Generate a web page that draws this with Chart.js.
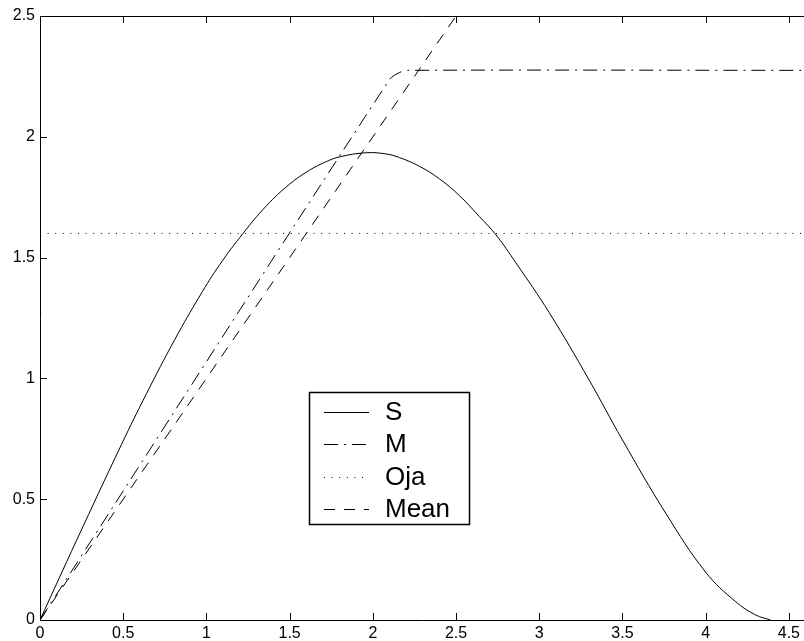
<!DOCTYPE html>
<html>
<head>
<meta charset="utf-8">
<script src="https://cdn.jsdelivr.net/npm/chart.js@4/dist/chart.umd.min.js"></script>
<style>
  html, body { margin: 0; padding: 0; background: #fff; }
  #wrap { width: 804px; height: 641px; }
</style>
</head>
<body>
<div id="wrap"><canvas id="myChart"></canvas></div>
<script>
// values
var sX = [0, 0.22, 0.49, 0.64, 0.81, 0.96, 1.08, 1.22, 1.36, 1.50, 1.62, 1.72, 1.80, 1.96, 2.08, 2.16, 2.28, 2.40, 2.52, 2.64, 2.74, 2.86, 3.06, 3.30, 3.50, 3.76, 4.00, 4.18, 4.30, 4.39];
var sY = [0, 0.330, 0.727, 0.937, 1.161, 1.341, 1.471, 1.600, 1.714, 1.804, 1.862, 1.897, 1.917, 1.934, 1.929, 1.914, 1.878, 1.826, 1.757, 1.670, 1.594, 1.478, 1.272, 0.993, 0.745, 0.442, 0.198, 0.076, 0.021, 0];
var mX = [0, 2.10, 2.16, 2.21, 4.6];
var mY = [0, 2.237, 2.266, 2.275, 2.275];
var ojaX = [0, 4.6];
var ojaY = [1.6, 1.6];
var meanX = [0, 2.6];
var meanY = [0, 2.6];
var xTicks = [0, 0.5, 1, 1.5, 2, 2.5, 3, 3.5, 4, 4.5];
var yTicks = [0, 0.5, 1, 1.5, 2, 2.5];
var seriesNames = ['S', 'M', 'Oja', 'Mean'];

function pts(xs, ys) {
    var out = [];
    for (var i = 0; i < xs.length; i++) {
        out.push({ x: xs[i], y: ys[i] });
    }
    return out;
}

var FONT = '"Liberation Sans", Arial, Helvetica, sans-serif';

function line(label, data, dash, tension) {
    return {
        label: label,
        data: data,
        showLine: true,
        borderColor: '#000',
        borderWidth: 1,
        borderDash: dash,
        pointRadius: 0,
        fill: false,
        tension: tension
    };
}

var dataSource = {
    datasets: [
        line(seriesNames[0], pts(sX, sY), [], 0.4),
        line(seriesNames[1], pts(mX, mY), [14, 6, 2, 6], 0.3),
        line(seriesNames[2], pts(ojaX, ojaY), [1, 6.6], 0),
        line(seriesNames[3], pts(meanX, meanY), [11, 9], 0)
    ]
};

// box round the axes with ticks pointing inward, like the original
var frame = {
    id: 'frame',
    afterDraw: function (chart) {
        var ctx = chart.ctx;
        var a = chart.chartArea;
        var x = chart.scales.x, y = chart.scales.y;
        ctx.save();
        ctx.strokeStyle = '#000';
        ctx.lineWidth = 1;
        ctx.setLineDash([]);
        ctx.beginPath();
        ctx.moveTo(a.right + 1, a.top + 0.5);
        ctx.lineTo(a.left + 0.5, a.top + 0.5);
        ctx.lineTo(a.left + 0.5, a.bottom + 0.5);
        ctx.lineTo(a.right + 1, a.bottom + 0.5);
        xTicks.forEach(function (v) {
            var px = Math.round(x.getPixelForValue(v)) + 0.5;
            ctx.moveTo(px, a.bottom);
            ctx.lineTo(px, a.bottom - 7);
            ctx.moveTo(px, a.top);
            ctx.lineTo(px, a.top + 7);
        });
        yTicks.forEach(function (v) {
            var py = Math.round(y.getPixelForValue(v)) + 0.5;
            ctx.moveTo(a.left, py);
            ctx.lineTo(a.left + 7, py);
        });
        ctx.stroke();
        ctx.restore();
    }
};

// boxed legend inside the plot
var boxLegend = {
    id: 'boxLegend',
    afterDraw: function (chart) {
        var ctx = chart.ctx;
        var bx = 309, by = 392, bw = 160, bh = 132;
        ctx.save();
        ctx.fillStyle = '#fff';
        ctx.fillRect(bx, by, bw, bh);
        ctx.strokeStyle = '#000';
        ctx.lineWidth = 1.5;
        ctx.setLineDash([]);
        ctx.strokeRect(bx + 0.5, by + 0.5, bw, bh);
        ctx.font = '26px ' + FONT;
        ctx.textBaseline = 'middle';
        ctx.fillStyle = '#000';
        chart.data.datasets.forEach(function (ds, i) {
            var cy = by + 20 + i * 32.3;
            ctx.lineWidth = 1;
            ctx.setLineDash(ds.borderDash);
            ctx.beginPath();
            ctx.moveTo(324, Math.round(cy) + 0.5);
            ctx.lineTo(369, Math.round(cy) + 0.5);
            ctx.stroke();
            ctx.fillText(ds.label, 385, cy + 1);
        });
        ctx.restore();
    }
};

var ctx = document.getElementById('myChart').getContext('2d');
new Chart(ctx, {
    type: 'scatter',
    data: dataSource,
    plugins: [frame, boxLegend],
    options: {
        responsive: true,
        maintainAspectRatio: false,
        animation: false,
        layout: { padding: { top: 16, right: 0, bottom: 0, left: 0 } },
        plugins: {
            legend: { display: false },
            tooltip: { enabled: false }
        },
        scales: {
            x: {
                type: 'linear',
                min: 0,
                max: 4.59,
                afterBuildTicks: function (scale) {
                    scale.ticks = xTicks.map(function (v) { return { value: v }; });
                },
                afterFit: function (scale) { scale.height = 21; },
                grid: { display: false, drawTicks: false },
                border: { display: false },
                ticks: {
                    padding: 4,
                    maxRotation: 0,
                    autoSkip: false,
                    color: '#000',
                    font: { family: FONT, size: 16 },
                    callback: function (v) { return String(v); }
                }
            },
            y: {
                type: 'linear',
                min: 0,
                max: 2.5,
                afterBuildTicks: function (scale) {
                    scale.ticks = yTicks.map(function (v) { return { value: v }; });
                },
                afterFit: function (scale) { scale.width = 40; },
                grid: { display: false, drawTicks: false },
                border: { display: false },
                ticks: {
                    padding: 5,
                    autoSkip: false,
                    color: '#000',
                    font: { family: FONT, size: 16 },
                    callback: function (v) { return String(v); }
                }
            }
        }
    }
});
</script>
</body>
</html>
